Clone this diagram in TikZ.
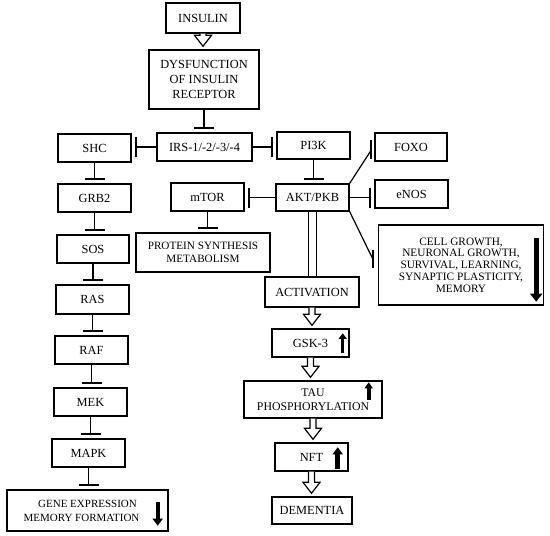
\documentclass[tikz,border=0pt]{standalone}
\usepackage{fontspec}
\setmainfont{Liberation Serif}
\usetikzlibrary{arrows.meta,calc}
\newcommand{\fatarrow}[2]{%
  \draw[fat] let \p1=(#1.south), \p2=(#2.north) in
    (\x1-3pt,\y1) -- (\x1-3pt,\y2+14pt) -- (\x1-8.5pt,\y2+14pt) -- (\x1,\y2+3pt)
    -- (\x1+8.5pt,\y2+14pt) -- (\x1+3pt,\y2+14pt) -- (\x1+3pt,\y1);}
\begin{document}
\begin{tikzpicture}[x=1pt,y=-1pt,
  box/.style={draw,line width=1.4pt,inner sep=0pt,align=center,
    font=\fontsize{12.4}{15}\selectfont},
  smallbox/.style={box,font=\fontsize{11.3}{11.8}\selectfont},
  conn/.style={line width=1.2pt},
  inh/.style={conn,-{Bar[width=20pt,line width=2pt]},shorten >=3pt},
  barst/.style={line width=2pt},
  fat/.style={line width=1.2pt,fill=white,line join=miter},
  blk/.style n args={3}{line width=#1,-{Triangle[width=#2,length=#3]}}
]
\useasboundingbox (0,0) rectangle (550,536);

% top
\node[box,minimum width=74pt,minimum height=30pt] (insulin) at (203,18) {INSULIN};
\node[box,minimum width=110pt,minimum height=59pt] (dys) at (204,79.5) {DYSFUNCTION\\OF INSULIN\\RECEPTOR};
\node[box,minimum width=95pt,minimum height=28pt] (irs) at (204.5,147) {IRS-1/-2/-3/-4};
\node[box,minimum width=73pt,minimum height=28pt] (shc) at (94.5,148) {SHC};
\node[box,minimum width=73pt,minimum height=27pt] (pi3k) at (313.5,145.5) {PI3K};

% right side
\node[box,minimum width=72pt,minimum height=28pt] (foxo) at (411,147) {FOXO};
\node[box,minimum width=73pt,minimum height=28pt] (enos) at (411.5,194) {eNOS};
\node[box,minimum width=73pt,minimum height=27pt] (akt) at (312.5,197.5) {AKT/PKB};
\node[box,minimum width=73pt,minimum height=28pt] (mtor) at (207.5,197) {mTOR};
\node[box,minimum width=134pt,minimum height=39pt,font=\fontsize{11.2}{13.3}\selectfont] (protein) at (203,252.5) {PROTEIN SYNTHESIS\\METABOLISM};
\node[smallbox,minimum width=165pt,minimum height=80pt] (cell) at (461,265) {CELL GROWTH,\\NEURONAL GROWTH,\\SURVIVAL, LEARNING,\\SYNAPTIC PLASTICITY,\\MEMORY};

% left column
\node[box,minimum width=73pt,minimum height=28pt] (grb2) at (94.5,198) {GRB2};
\node[box,minimum width=72pt,minimum height=28pt] (sos) at (93,249) {SOS};
\node[box,minimum width=73pt,minimum height=29pt] (ras) at (92.5,299.5) {RAS};
\node[box,minimum width=73pt,minimum height=28pt] (raf) at (91.5,350) {RAF};
\node[box,minimum width=73pt,minimum height=28pt] (mek) at (90.5,402) {MEK};
\node[box,minimum width=73pt,minimum height=28pt] (mapk) at (88.5,453) {MAPK};
\node[box,minimum width=161pt,minimum height=41pt,font=\fontsize{11}{14}\selectfont] (gene) at (87.5,510.5) {GENE EXPRESSION\\MEMORY FORMATION\hspace*{12pt}};

% middle column
\node[box,minimum width=94pt,minimum height=30pt] (activation) at (312,292) {ACTIVATION};
\node[box,minimum width=77pt,minimum height=28pt] (gsk) at (310.5,343) {GSK-3};
\node[box,minimum width=138pt,minimum height=37pt,font=\fontsize{11.8}{14}\selectfont] (tau) at (313,399.5) {TAU\\PHOSPHORYLATION};
\node[box,minimum width=73pt,minimum height=28pt] (nft) at (311.5,457) {NFT};
\node[box,minimum width=80pt,minimum height=27pt] (dementia) at (312,510.5) {DEMENTIA};

% hollow arrows
\fatarrow{insulin}{dys}
\fatarrow{activation}{gsk}
\fatarrow{gsk}{tau}
\fatarrow{tau}{nft}
\fatarrow{nft}{dementia}

% inhibition connectors
\draw[inh] (dys.south) -- (dys.south |- irs.north);
\draw[inh] (irs.west) -- (irs.west -| shc.east);
\draw[inh] (irs.east) -- (irs.east -| pi3k.west);
\draw[inh] (pi3k.south) -- (pi3k.south |- akt.north);
\draw[inh] (akt.east) -- (akt.east -| enos.west);
\draw[inh] (akt.west) -- (akt.west -| mtor.east);
\draw[inh] (mtor.south) -- (mtor.south |- protein.north);
\draw[inh] (shc.south) -- (shc.south |- grb2.north);
\draw[inh] (grb2.south) -- (grb2.south |- sos.north);
\draw[inh] (sos.south) -- (sos.south |- ras.north);
\draw[inh] (ras.south) -- (ras.south |- raf.north);
\draw[inh] (raf.south) -- (raf.south |- mek.north);
\draw[inh] (mek.south) -- (mek.south |- mapk.north);
\draw[inh] (mapk.south) -- (mapk.south |- gene.north);

% diagonal inhibitions
\coordinate (fxe) at ($(foxo.west)+(-3,3)$);
\draw[conn] (akt.north east) -- (fxe);
\draw[barst] ($(fxe)+(0,-10)$) -- ($(fxe)+(0,9)$);
\coordinate (cge) at ($(cell.west)+(-5,-6)$);
\draw[conn] (akt.south east) -- (cge);
\draw[barst] ($(cge)+(0,-9)$) -- ($(cge)+(0,9)$);

% AKT to activation hollow bar
\draw[conn] let \p1=(akt.south), \p2=(activation.north) in
  (\x1-4pt,\y1) rectangle (\x1+4pt,\y2);

% black arrows
\draw[blk={4.7pt}{12pt}{8pt}] ($(cell.north east)+(-8,14)$) -- ($(cell.south east)+(-8,-4)$);
\draw[blk={4pt}{10pt}{7pt}] ($(gene.north east)+(-11,13)$) -- ($(gene.south east)+(-11,-6)$);
\draw[blk={3.5pt}{8pt}{5.5pt}] ($(gsk.south east)+(-7,-5)$) -- ($(gsk.north east)+(-7,5)$);
\draw[blk={4pt}{8pt}{6pt}] ($(tau.north east)+(-14,20)$) -- ($(tau.north east)+(-14,2)$);
\draw[blk={5pt}{10pt}{7pt}] ($(nft.south east)+(-11,-3)$) -- ($(nft.north east)+(-11,5)$);
\end{tikzpicture}
\end{document}
